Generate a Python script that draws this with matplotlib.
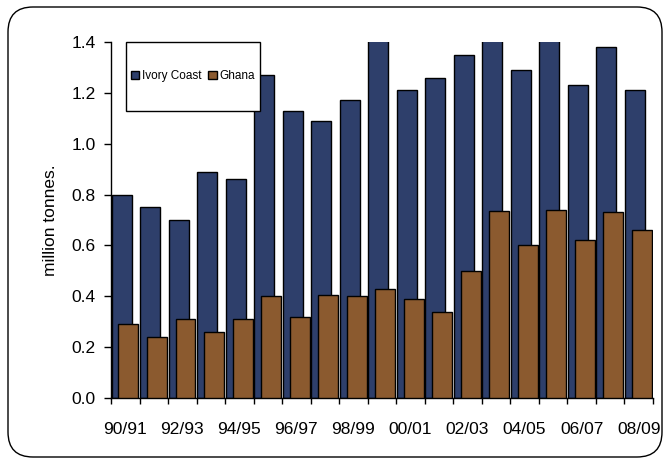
"""
Cocoa production: Ivory Coast vs Ghana, overlapping bars.
"""

import matplotlib
matplotlib.use('Agg')

import matplotlib.pyplot as plt
import numpy as np
from matplotlib.patches import FancyBboxPatch, Rectangle

plt.rcParams['font.family'] = ['Liberation Sans', 'DejaVu Sans']

seasons = ['90/91', '91/92', '92/93', '93/94', '94/95', '95/96', '96/97',
           '97/98', '98/99', '99/00', '00/01', '01/02', '02/03', '03/04',
           '04/05', '05/06', '06/07', '07/08', '08/09']
ivory_coast = [0.80, 0.75, 0.70, 0.89, 0.86, 1.27, 1.13, 1.09, 1.17, 1.41,
               1.21, 1.26, 1.35, 1.41, 1.29, 1.41, 1.23, 1.38, 1.21]
ghana = [0.29, 0.24, 0.31, 0.26, 0.31, 0.40, 0.32, 0.405, 0.40, 0.43,
         0.39, 0.34, 0.50, 0.735, 0.60, 0.74, 0.62, 0.73, 0.66]

blue = '#2E3F6B'
brown = '#8B5A2F'

fig = plt.figure(figsize=(6.69, 4.63), dpi=100)
ax = fig.add_axes([0.166, 0.1404, 0.81, 0.769])

# rounded frame around the whole chart (inches)
frame = FancyBboxPatch((0.08, 0.06), 6.54, 4.50,
                       boxstyle='round,pad=0,rounding_size=0.25',
                       transform=fig.dpi_scale_trans, fill=False,
                       edgecolor='black', linewidth=1.0)
fig.patches.append(frame)

x = np.arange(len(seasons))
w = 0.7
ax.bar(x + 0.02, ivory_coast, width=w, align='edge', color=blue,
       edgecolor='black', linewidth=1.0, label='Ivory Coast', zorder=2)
ax.bar(x + 0.26, ghana, width=w, align='edge', color=brown,
       edgecolor='black', linewidth=1.0, label='Ghana', zorder=3)

ax.set_xlim(0, len(seasons))
ax.set_ylim(0, 1.4)
ax.set_yticks(np.arange(0, 1.41, 0.2))
ax.set_yticklabels([f'{v:.1f}' for v in np.arange(0, 1.41, 0.2)])

ax.set_xticks(x[::2] + 0.5)
ax.set_xticklabels(seasons[::2])
ax.set_xticks(np.arange(len(seasons) + 1), minor=True)
ax.tick_params(axis='x', which='major', length=0, pad=17, labelsize=12.5)
ax.tick_params(axis='x', which='minor', length=4, width=1, direction='out')
ax.tick_params(axis='y', length=5, width=1, labelsize=12.5, pad=6)

for side in ['top', 'right']:
    ax.spines[side].set_visible(False)
for side in ['left', 'bottom']:
    ax.spines[side].set_linewidth(1.0)

ax.set_ylabel('million tonnes.', fontsize=12.5, labelpad=10)

# legend box
ax.add_patch(Rectangle((0.0277, 0.806), 0.247, 0.194, transform=ax.transAxes,
                       facecolor='white', edgecolor='black', linewidth=1.0,
                       zorder=5, clip_on=False))
leg = ax.legend(loc='center', bbox_to_anchor=(0.151, 0.903), ncol=2,
                frameon=False, fontsize=8.5, handlelength=0.7,
                handleheight=0.7, handletextpad=0.2, columnspacing=0.6)
leg.set_zorder(6)

fig.savefig('out.png', dpi=100, facecolor='white')
